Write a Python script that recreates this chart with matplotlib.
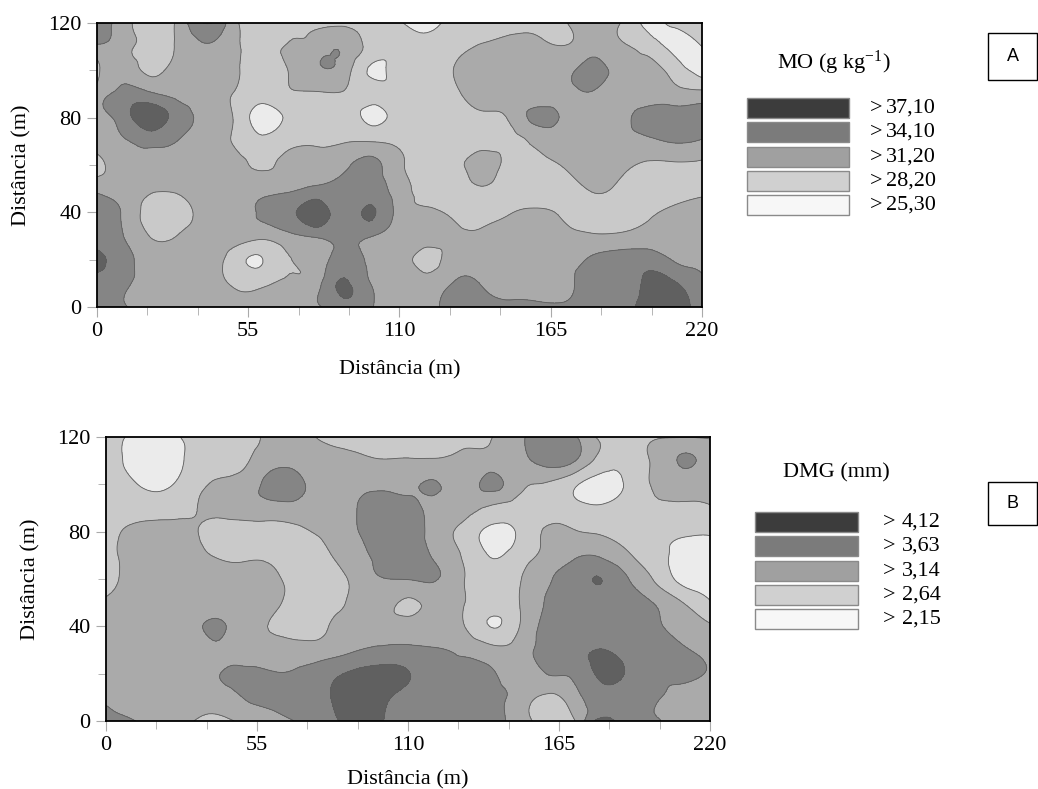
import numpy as np
import matplotlib.pyplot as plt
from matplotlib.patches import Rectangle
from matplotlib.tri import Triangulation, UniformTriRefiner

plt.rcParams['font.family'] = 'serif'
plt.rcParams['font.serif'] = ['Liberation Serif', 'DejaVu Serif']
plt.rcParams['font.size'] = 16

W, H = 1038, 789

# sampling grid (m)
x_m = np.arange(0, 221, 10)
y_m = np.arange(0, 121, 10)

# MO (g kg-1), rows from y=120 down to y=0, columns x=0..220
mo_rows = [
    [36.0, 32.4, 29.2, 32.2, 37.3, 32.0, 29.5, 30.2, 30.6, 30.4, 29.5, 28.4, 26.8, 29.8, 30.0, 30.0, 30.3, 31.0, 32.6, 31.3, 27.6, 28.8, 29.6],
    [33.6, 32.2, 29.8, 32.0, 33.9, 32.0, 29.7, 31.6, 32.6, 33.6, 30.0, 29.2, 29.0, 30.2, 31.4, 32.0, 32.0, 31.3, 32.8, 32.0, 29.8, 27.6, 28.2],
    [30.5, 33.2, 30.4, 32.8, 32.6, 31.6, 29.6, 31.4, 33.6, 32.6, 27.7, 29.6, 29.8, 31.3, 32.6, 32.6, 32.6, 33.0, 35.2, 33.0, 32.4, 29.8, 27.0],
    [32.6, 35.0, 34.5, 33.0, 32.6, 31.0, 29.6, 30.8, 30.9, 30.8, 29.2, 29.5, 29.8, 30.6, 32.6, 32.6, 32.8, 33.0, 33.8, 32.6, 32.2, 32.2, 32.2],
    [33.0, 35.8, 38.6, 35.5, 33.6, 30.9, 27.0, 29.0, 29.7, 29.7, 27.6, 29.5, 29.7, 29.8, 30.4, 31.6, 34.9, 33.5, 32.6, 33.0, 35.6, 35.6, 35.6],
    [32.6, 33.8, 35.2, 33.9, 32.6, 30.9, 29.0, 30.4, 30.7, 31.0, 31.1, 30.6, 29.7, 29.6, 29.8, 30.2, 31.8, 32.6, 32.6, 33.0, 33.5, 34.3, 33.8],
    [30.2, 32.6, 32.6, 32.6, 32.6, 32.0, 30.9, 32.0, 32.6, 33.6, 34.8, 31.8, 29.7, 29.8, 32.8, 29.8, 29.8, 31.5, 32.6, 32.0, 30.8, 30.8, 30.7],
    [33.4, 32.6, 31.5, 31.6, 32.6, 32.6, 33.2, 33.6, 34.8, 35.6, 35.6, 32.4, 30.6, 29.8, 30.8, 29.7, 29.7, 30.2, 31.4, 30.8, 29.8, 29.8, 30.4],
    [35.4, 33.6, 29.6, 29.8, 32.2, 32.6, 34.5, 36.0, 38.6, 36.0, 37.4, 33.0, 31.8, 30.4, 30.0, 31.0, 31.6, 30.8, 30.4, 30.4, 30.8, 31.8, 32.6],
    [35.6, 34.0, 31.0, 31.4, 32.6, 32.6, 32.0, 33.4, 34.6, 35.6, 34.2, 32.6, 32.6, 31.8, 31.6, 32.6, 32.6, 32.0, 31.5, 31.6, 32.2, 32.6, 32.6],
    [38.0, 35.2, 32.8, 32.6, 32.4, 29.8, 28.1, 31.1, 32.6, 35.6, 33.2, 32.6, 30.2, 32.6, 32.6, 32.6, 32.6, 33.0, 34.5, 35.6, 35.9, 33.8, 33.0],
    [35.6, 34.6, 32.6, 32.6, 32.6, 30.8, 30.6, 31.8, 33.2, 37.5, 33.9, 32.6, 32.6, 34.3, 33.9, 32.8, 32.8, 33.0, 35.6, 35.6, 37.6, 37.4, 34.6],
    [35.6, 34.3, 32.6, 32.6, 32.6, 32.0, 32.2, 32.6, 33.8, 35.8, 34.3, 32.6, 33.2, 35.0, 35.0, 35.0, 35.0, 35.0, 35.6, 35.8, 38.6, 38.6, 35.6],
]

# DMG (mm), rows from y=120 down to y=0
dmg_rows = [
    [2.85, 2.55, 2.40, 2.75, 2.90, 2.95, 3.25, 3.30, 3.05, 2.95, 2.95, 2.95, 3.00, 3.05, 3.12, 3.50, 3.95, 3.75, 3.05, 2.90, 3.10, 3.12, 3.10],
    [2.85, 2.50, 2.35, 2.72, 2.95, 3.05, 3.45, 3.45, 3.30, 3.25, 3.16, 3.17, 3.20, 3.30, 3.35, 3.45, 3.80, 3.70, 2.95, 2.85, 3.25, 3.68, 3.38],
    [2.90, 2.68, 2.55, 2.85, 3.20, 3.35, 3.80, 3.75, 3.38, 3.45, 3.50, 3.45, 3.68, 3.40, 3.75, 3.30, 3.10, 2.75, 2.45, 2.72, 3.20, 3.38, 3.30],
    [2.95, 2.90, 2.90, 3.05, 3.30, 3.38, 3.45, 3.45, 3.40, 3.58, 3.90, 3.85, 3.45, 3.25, 3.08, 2.95, 2.90, 2.80, 2.70, 2.85, 3.05, 3.05, 3.10],
    [2.95, 3.25, 3.35, 3.25, 2.95, 2.95, 2.95, 3.05, 3.25, 3.55, 3.95, 3.95, 3.40, 3.00, 2.50, 2.70, 3.18, 3.18, 3.08, 2.90, 2.75, 2.70, 2.70],
    [2.95, 3.30, 3.38, 3.38, 3.10, 3.05, 3.05, 2.90, 3.05, 3.45, 3.75, 3.90, 3.55, 3.10, 2.62, 2.85, 3.25, 3.55, 3.58, 3.20, 2.85, 2.45, 2.40],
    [2.95, 3.30, 3.38, 3.38, 3.38, 3.30, 3.22, 2.95, 2.85, 3.25, 3.60, 3.65, 3.66, 3.18, 2.85, 3.08, 3.55, 3.85, 4.13, 3.66, 3.08, 2.50, 2.45],
    [3.22, 3.38, 3.38, 3.38, 3.38, 3.35, 3.22, 3.00, 2.95, 3.25, 3.38, 3.06, 3.38, 3.18, 2.85, 3.10, 3.65, 3.90, 3.95, 3.90, 3.60, 3.15, 2.68],
    [3.38, 3.38, 3.38, 3.45, 3.70, 3.35, 3.12, 2.95, 3.10, 3.40, 3.40, 3.35, 3.35, 3.18, 2.63, 3.08, 3.75, 3.90, 3.95, 3.90, 3.70, 3.45, 3.20],
    [3.38, 3.38, 3.38, 3.38, 3.55, 3.40, 3.35, 3.35, 3.38, 3.58, 3.72, 3.72, 3.66, 3.55, 3.30, 3.35, 3.75, 3.90, 4.14, 3.90, 3.85, 3.70, 3.45],
    [3.38, 3.38, 3.38, 3.38, 3.58, 3.75, 3.66, 3.70, 3.95, 4.20, 4.30, 4.15, 3.80, 3.80, 3.72, 3.35, 3.62, 3.72, 4.22, 4.05, 3.75, 3.75, 3.58],
    [3.55, 3.38, 3.38, 3.38, 3.35, 3.64, 3.70, 3.80, 4.05, 4.35, 4.25, 3.95, 3.85, 3.85, 3.80, 3.45, 3.05, 3.40, 3.90, 3.80, 3.68, 3.45, 3.40],
    [3.80, 3.65, 3.38, 3.20, 3.00, 3.25, 3.50, 3.66, 4.00, 4.20, 4.15, 3.90, 3.85, 3.85, 3.80, 3.40, 2.95, 3.05, 4.30, 3.75, 3.66, 3.40, 3.38],
]

mo_levels = [25.30, 28.20, 31.20, 34.10, 37.10]
dmg_levels = [2.15, 2.64, 3.14, 3.63, 4.12]

map_colors = ['#ebebeb', '#c9c9c9', '#aaaaaa', '#858585', '#606060']
key_colors = ['#f7f7f7', '#d0d0d0', '#a0a0a0', '#7b7b7b', '#3c3c3c']


def fx(px):
    return px / W


def fy(py):
    return 1 - py / H


def draw_map(ax, rows, levels, top):
    z = np.flipud(np.array(rows))
    X, Y = np.meshgrid(x_m, y_m)
    # smooth the kriged grid with matplotlib's cubic tri refiner
    tri = Triangulation(X.ravel(), Y.ravel())
    tri_f, z_f = UniformTriRefiner(tri).refine_field(z.ravel(), subdiv=3)
    ax.tricontourf(tri_f, z_f, levels=levels + [top], colors=map_colors)
    ax.tricontour(tri_f, z_f, levels=levels, colors='#5e5e5e', linewidths=0.6)
    ax.set_xlim(0, 220)
    ax.set_ylim(0, 120)
    ax.set_xticks([0, 55, 110, 165, 220])
    ax.set_xticks(np.arange(0, 221, 55 / 3), minor=True)
    ax.set_yticks([0, 40, 80, 120])
    ax.set_yticks([20, 60, 100], minor=True)
    ax.tick_params(which='major', direction='out', length=7, color='#aaaaaa', labelsize=16, pad=4)
    ax.tick_params(which='minor', direction='out', length=6, color='#aaaaaa')
    for s in ax.spines.values():
        s.set_linewidth(1.3)
        s.set_zorder(5)
    ax.set_xlabel('Distância (m)', fontsize=16)
    ax.set_ylabel('Distância (m)', fontsize=16)
    ax.yaxis.set_label_coords(-0.108, 0.5)


def draw_key(fig, title, title_xy, levels, px0, px1, row_tops, gt_x, num_x):
    fig.text(fx(title_xy[0]), fy(title_xy[1]), title, ha='center', va='center', fontsize=16)
    for i, (lev, col) in enumerate(zip(levels[::-1], key_colors[::-1])):
        top = row_tops[i]
        fig.patches.append(Rectangle((fx(px0), fy(top + 19.5)), fx(px1) - fx(px0), 19.5 / H,
                                     transform=fig.transFigure, facecolor=col,
                                     edgecolor='#8a8a8a', linewidth=1.0))
        yc = fy(top + 10)
        fig.text(fx(gt_x), yc, '>', ha='left', va='center', fontsize=16)
        fig.text(fx(num_x), yc, f'{lev:.2f}'.replace('.', ','), ha='left', va='center', fontsize=16)


def draw_tag(fig, letter, px0, py0, px1, py1):
    fig.patches.append(Rectangle((fx(px0), fy(py1)), fx(px1) - fx(px0), (py1 - py0) / H,
                                 transform=fig.transFigure, facecolor='white',
                                 edgecolor='black', linewidth=1.0))
    fig.text(fx((px0 + px1) / 2), fy((py0 + py1) / 2), letter, ha='center', va='center',
             fontsize=13, family='Liberation Sans')


fig = plt.figure(figsize=(W / 100, H / 100), dpi=100)

ax_a = fig.add_axes([fx(97), fy(307), (702 - 97) / W, (307 - 23) / H])
draw_map(ax_a, mo_rows, mo_levels, 50.0)
ax_a.xaxis.set_label_coords(0.5, -0.186)

ax_b = fig.add_axes([fx(106), fy(721), (710 - 106) / W, (721 - 437) / H])
draw_map(ax_b, dmg_rows, dmg_levels, 6.0)
ax_b.xaxis.set_label_coords(0.5, -0.172)

draw_key(fig, r'MO (g kg$\mathregular{^{-1}}$)', (834, 63), mo_levels, 747, 849,
         [98, 122, 147, 171, 195], 870, 886)
draw_key(fig, 'DMG (mm)', (836, 473), dmg_levels, 755, 858,
         [512, 536, 561, 585, 609], 883, 902)

draw_tag(fig, 'A', 988, 33, 1037, 80)
draw_tag(fig, 'B', 988, 482, 1037, 525)

fig.savefig('out.png', dpi=100, facecolor='white')
